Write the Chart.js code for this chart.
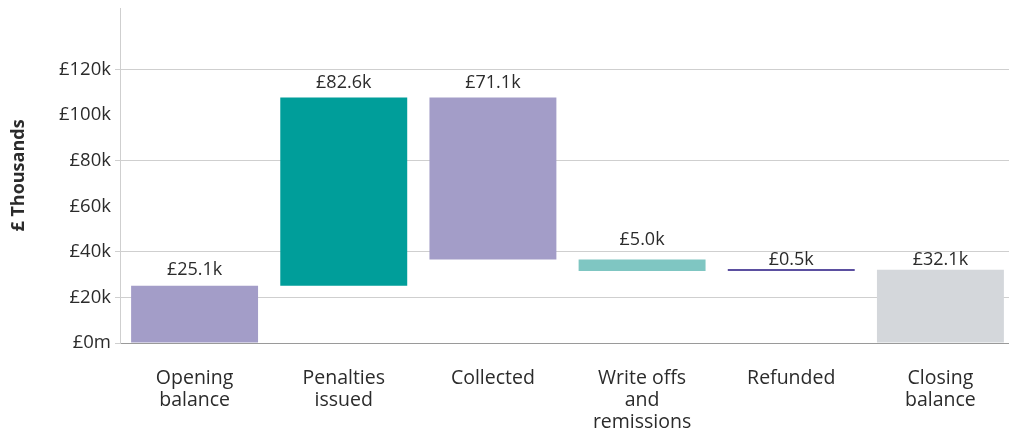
<!DOCTYPE html>
<html>
<head>
<meta charset="utf-8">
<script src="https://cdn.jsdelivr.net/npm/chart.js@4/dist/chart.umd.min.js"></script>
<style>
  html, body { margin: 0; padding: 0; background: #fff; overflow: hidden; }
  #wrap { width: 1015px; height: 432px; position: relative; }
</style>
</head>
<body>
<div id="wrap"><canvas id="c"></canvas></div>
<script>
// ---- Data (values in £ thousands) ----
const categories = [['Opening', 'balance'], ['Penalties', 'issued'], ['Collected'], ['Write offs', 'and', 'remissions'], ['Refunded'], ['Closing', 'balance']];
const barStart = [0, 25.1, 36.6, 31.6, 31.6, 0];
const barEnd = [25.1, 107.7, 107.7, 36.6, 32.1, 32.1];
const valueLabels = ['£25.1k', '£82.6k', '£71.1k', '£5.0k', '£0.5k', '£32.1k'];
const yTickValues = [0, 20, 40, 60, 80, 100, 120];
const yTickLabels = ['£0m', '£20k', '£40k', '£60k', '£80k', '£100k', '£120k'];
const gridValues = [0, 20, 40, 80, 120];

// ---- Styles ----
const barColors = ['#A39DC8', '#009E9A', '#A39DC8', '#7FC6C2', '#5B4FA0', '#D4D7DB'];
const labelGap = [9, 8, 8, 13, 2, 3];
const FONT = "'Open Sans', sans-serif";

const valueLabelPlugin = {
  id: 'valueLabels',
  afterDatasetsDraw(chart) {
    const ctx = chart.ctx;
    const meta = chart.getDatasetMeta(0);
    ctx.save();
    ctx.font = "18px " + FONT;
    ctx.fillStyle = '#2b2b2b';
    ctx.textAlign = 'center';
    ctx.textBaseline = 'bottom';
    meta.data.forEach((bar, i) => {
      const top = Math.min(bar.y, bar.base);
      ctx.fillText(valueLabels[i], bar.x, top - labelGap[i] + 2);
    });
    ctx.restore();
  }
};

new Chart(document.getElementById('c'), {
  type: 'bar',
  data: {
    labels: categories,
    datasets: [{
      data: barStart.map((s, i) => [s, barEnd[i]]),
      backgroundColor: barColors,
      borderWidth: 0,
      borderSkipped: false,
      minBarLength: 2,
      barPercentage: 0.851,
      categoryPercentage: 1.0
    }]
  },
  options: {
    responsive: true,
    maintainAspectRatio: false,
    animation: false,
    layout: { padding: { top: 8, right: 0, left: 0, bottom: 0 } },
    plugins: { legend: { display: false }, tooltip: { enabled: false } },
    scales: {
      x: {
        grid: { display: false, drawTicks: false },
        border: { display: true, color: '#9a9a9a', width: 1 },
        ticks: {
          color: '#2b2b2b',
          font: { family: FONT, size: 19.5, lineHeight: 1.13 },
          padding: 24,
          maxRotation: 0,
          autoSkip: false
        },
        afterFit(scale) { scale.height = 89; scale.paddingLeft = 0; scale.paddingRight = 0; }
      },
      y: {
        min: 0,
        max: 147,
        afterBuildTicks(scale) { scale.ticks = yTickValues.map(v => ({ value: v })); },
        grid: {
          color: ctx => (ctx.tick && gridValues.includes(ctx.tick.value)) ? '#cfcfcf' : 'rgba(0,0,0,0)',
          lineWidth: 1,
          tickLength: 5,
          drawTicks: true
        },
        border: { display: true, color: '#cfcfcf', width: 1 },
        ticks: {
          color: '#2b2b2b',
          font: { family: FONT, size: 18.5 },
          padding: 4,
          callback: (v) => { const i = yTickValues.indexOf(v); return i >= 0 ? yTickLabels[i] : ''; }
        },
        title: {
          display: true,
          text: '£ Thousands',
          color: '#2b2b2b',
          font: { family: FONT, size: 18, weight: 'bold' },
          padding: { top: 8, bottom: 0 }
        },
        afterFit(scale) { scale.width = 120; scale.paddingTop = 0; scale.paddingBottom = 0; }
      }
    }
  },
  plugins: [valueLabelPlugin]
});
</script>
</body>
</html>
